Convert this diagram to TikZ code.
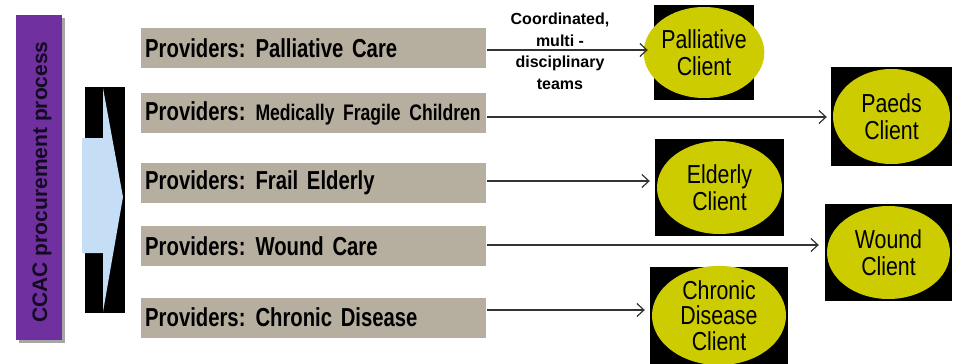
\documentclass[tikz,border=0pt]{standalone}
\usepackage{fontspec}
\setmainfont{Liberation Sans}
\newfontfamily\narrowsans[FakeStretch=0.78]{Liberation Sans}
\newfontfamily\clientsans[FakeStretch=0.82]{Liberation Sans}
\usetikzlibrary{shapes.geometric,arrows.meta,calc}
\definecolor{procpurple}{RGB}{112,48,160}
\definecolor{provtaupe}{RGB}{182,175,160}
\definecolor{clientyellow}{RGB}{204,204,0}
\definecolor{flowblue}{RGB}{197,221,245}
\definecolor{navytext}{RGB}{20,10,35}
% narrow bold face with tight word spacing for the provider boxes
\DeclareRobustCommand{\provfont}{\narrowsans\bfseries\fontsize{26}{28}\selectfont\spaceskip=5.5pt\relax}
\DeclareRobustCommand{\provlabel}{Providers:\hspace{10pt}}
\begin{document}
\begin{tikzpicture}[x=1pt,y=-1pt,
  provider/.style={fill=provtaupe, anchor=west, minimum width=345pt, minimum height=40pt,
    inner sep=4pt, text width=337pt, align=left, font=\provfont},
  clientbox/.style={fill=black, inner sep=0pt},
  client/.style={ellipse, fill=clientyellow, inner sep=0pt, align=center,
    font=\clientsans\fontsize{26}{27}\selectfont},
  conn/.style={draw=black!80, line width=1.2pt,
    -{Straight Barb[length=7pt,width=13pt,line width=1.2pt]}}
]
% canvas
\fill[white] (0,0) rectangle (954,364);
\useasboundingbox (0,0) rectangle (954,364);

% process bar with its shadow
\fill[black!35] (19,18) rectangle (65,343);
\node[fill=procpurple, minimum width=46pt, minimum height=325pt, inner sep=0pt] (bar) at (39,177.5) {};
\node[rotate=90, text=navytext, font=\bfseries\fontsize{21}{24}\selectfont] (bartext) at (42,182) {CCAC procurement process};

% block arrow
\fill[black] (85,87) rectangle (125,313);
\fill[flowblue] (82,138) -- (103,138) -- (103,88) -- (123,197) -- (103,312) -- (103,253) -- (82,253) -- cycle;

% provider boxes
\node[provider] (p1) at (141,48) {\mbox{\provlabel Palliative Care}};
\node[provider] (p2) at (141,113) {\mbox{\provlabel{\fontsize{22.5}{24}\selectfont Medically Fragile Children}}};
\node[provider] (p3) at (141,182.5) {\mbox{\provlabel Frail Elderly}};
\node[provider] (p4) at (141,246) {\mbox{\provlabel Wound Care}};
\node[provider] (p5) at (141,317.5) {\mbox{\provlabel Chronic Disease}};

% client boxes
\node[clientbox, minimum width=100pt, minimum height=95pt] (c1) at (704,52.5) {};
\node[client, minimum width=96pt, minimum height=91pt] (e1) at (c1) {Palliative\\Client};
\node[clientbox, minimum width=121pt, minimum height=99pt] (c2) at (891.5,116.5) {};
\node[client, minimum width=117pt, minimum height=95pt] (e2) at (c2) {Paeds\\Client};
\node[clientbox, minimum width=129pt, minimum height=97pt] (c3) at (719.5,187.5) {};
\node[client, minimum width=125pt, minimum height=93pt] (e3) at (c3) {Elderly\\Client};
\node[clientbox, minimum width=127pt, minimum height=97pt] (c4) at (888.5,252.5) {};
\node[client, minimum width=123pt, minimum height=93pt] (e4) at (c4) {Wound\\Client};
\node[clientbox, minimum width=138pt, minimum height=97pt] (c5) at (719,315.5) {};
\node[client, minimum width=134pt, minimum height=93pt, font=\clientsans\fontsize{26}{25.5}\selectfont] (e5) at (c5) {Chronic\\Disease\\Client};

% connectors
\draw[conn] ($(p1.east)+(1,2)$) -- ($(p1.east -| c1.west)+(-6,2)$);
\draw[conn] ($(p2.east)+(1,4)$) -- ($(p2.east -| c2.west)+(-4,4)$);
\draw[conn] ($(p3.east)+(1,-1.5)$) -- ($(p3.east -| c3.west)+(-5,-1.5)$);
\draw[conn] ($(p4.east)+(1,-1)$) -- ($(p4.east -| c4.west)+(-6,-1)$);
\draw[conn] ($(p5.east)+(1,-7.5)$) -- ($(p5.east -| c5.west)+(-5,-7.5)$);

% label on the first connector
\node[align=center, font=\bfseries\fontsize{16}{21.5}\selectfont] (teams) at (560,51.5) {Coordinated,\\multi -\\disciplinary\\teams};
\end{tikzpicture}
\end{document}
